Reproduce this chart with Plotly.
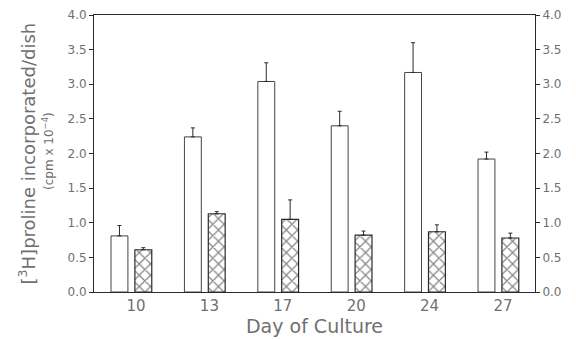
import plotly.graph_objects as go

days = ["10", "13", "17", "20", "24", "27"]
open_vals = [0.81, 2.24, 3.04, 2.40, 3.17, 1.92]
open_err = [0.15, 0.13, 0.27, 0.21, 0.43, 0.10]
hatch_vals = [0.61, 1.13, 1.05, 0.82, 0.87, 0.78]
hatch_err = [0.03, 0.03, 0.28, 0.06, 0.10, 0.07]
y_ticks = [0.0, 0.5, 1.0, 1.5, 2.0, 2.5, 3.0, 3.5, 4.0]

FONT = "DejaVu Sans"
TXT = "#707070"
LINE = "#2a2a2a"

fig = go.Figure()
fig.add_trace(go.Bar(
    x=days, y=open_vals, width=0.23, offset=-0.34,
    marker=dict(color="white", line=dict(color="#444", width=1)),
    error_y=dict(type="data", array=open_err, arrayminus=[0]*6, symmetric=False,
                 color=LINE, thickness=1, width=2),
    showlegend=False,
))
fig.add_trace(go.Bar(
    x=days, y=hatch_vals, width=0.23, offset=-0.015,
    marker=dict(color="white", line=dict(color=LINE, width=1.2),
                pattern=dict(shape="x", fgcolor="#111", bgcolor="white", size=8, solidity=0.3)),
    error_y=dict(type="data", array=hatch_err, arrayminus=[0]*6, symmetric=False,
                 color=LINE, thickness=1, width=2),
    showlegend=False,
))
fig.add_trace(go.Scatter(x=days[:1], y=[0], yaxis="y2", mode="markers",
                         marker=dict(opacity=0), showlegend=False, hoverinfo="skip"))

fig.update_layout(
    width=576, height=339,
    margin=dict(l=94, r=41, t=15, b=47),
    paper_bgcolor="white", plot_bgcolor="white",
    font=dict(family=FONT, color=TXT),
    barmode="overlay",
    xaxis=dict(type="category", range=[-0.572, 5.436], showline=True, linecolor=LINE,
               linewidth=1, mirror=True, ticks="", showgrid=False, automargin=False,
               tickfont=dict(size=15, color=TXT),
               title=dict(text="Day of Culture", font=dict(size=19, color=TXT), standoff=5)),
    yaxis=dict(range=[0, 4.0], tickvals=y_ticks, ticktext=[f"{v:.1f}" for v in y_ticks],
               showline=True, linecolor=LINE, linewidth=1, ticks="outside", ticklen=4,
               tickcolor=LINE, showgrid=False, zeroline=False, automargin=False,
               tickfont=dict(size=12, color=TXT)),
    yaxis2=dict(range=[0, 4.0], tickvals=y_ticks, ticktext=[f"{v:.1f}" for v in y_ticks],
                overlaying="y", side="right", showline=True, linecolor=LINE, linewidth=1,
                ticks="outside", ticklen=4, tickcolor=LINE, showgrid=False, zeroline=False,
                automargin=False, tickfont=dict(size=12, color=TXT)),
    annotations=[
        dict(text="[<sup>3</sup>H]proline incorporated/dish", xref="paper", yref="paper",
             x=-0.152, y=0.5, textangle=-90, showarrow=False, xanchor="center",
             yanchor="middle", font=dict(size=18, color=TXT)),
        dict(text="(cpm x 10<sup>\u22124</sup>)", xref="paper", yref="paper",
             x=-0.106, y=0.51, textangle=-90, showarrow=False, xanchor="center",
             yanchor="middle", font=dict(size=12, color=TXT)),
    ],
)

fig.write_html("out.html")
